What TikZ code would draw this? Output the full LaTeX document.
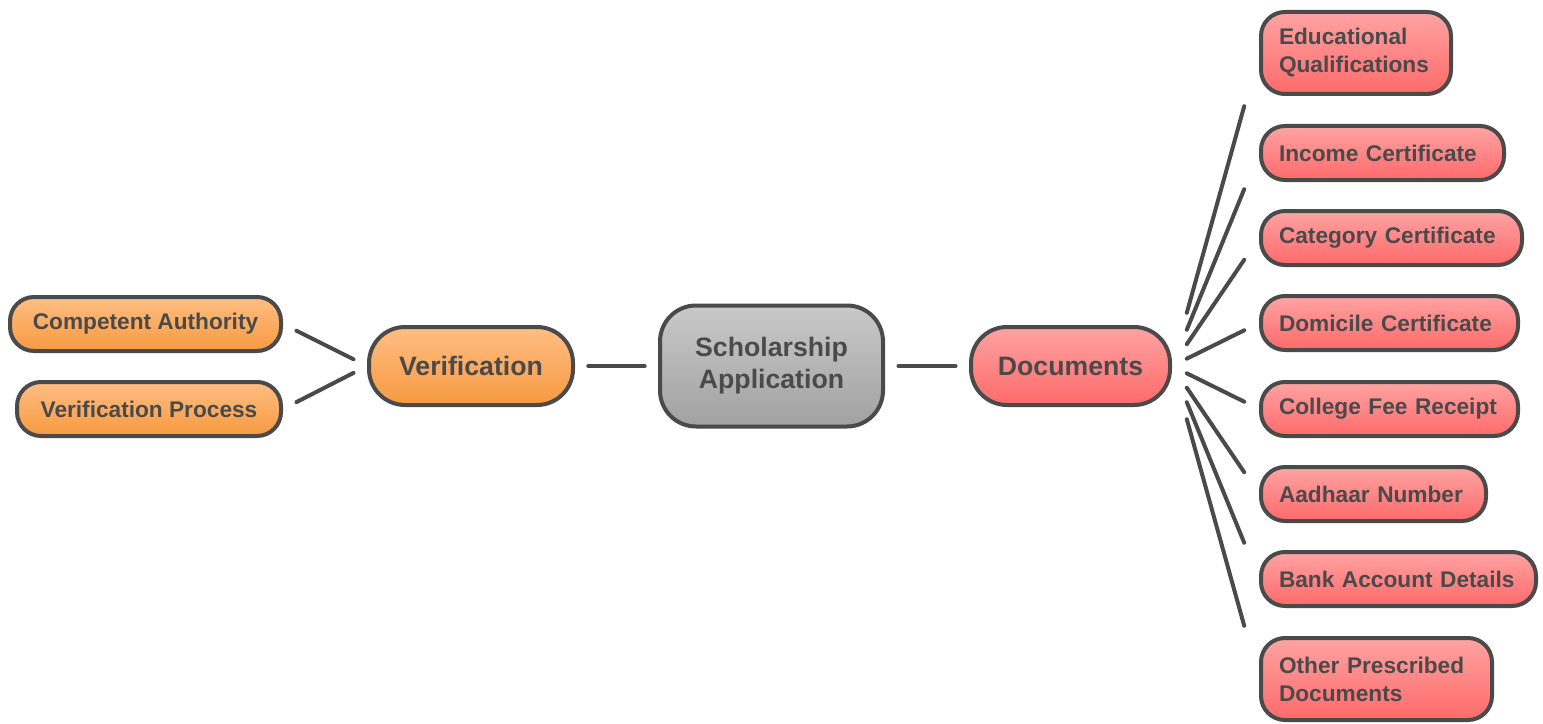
\documentclass[tikz,border=0pt]{standalone}
\usepackage{fontspec}
\setmainfont{Liberation Sans}
\usetikzlibrary{calc}
\definecolor{sa_line}{RGB}{74, 74, 74}
\definecolor{sa_orange_t}{RGB}{255, 190, 132}
\definecolor{sa_orange_b}{RGB}{247, 154, 64}
\definecolor{sa_red_t}{RGB}{255, 163, 163}
\definecolor{sa_red_b}{RGB}{255, 106, 106}
\definecolor{sa_grey_t}{RGB}{201, 201, 201}
\definecolor{sa_grey_b}{RGB}{161, 161, 161}
\tikzstyle{box}=[draw=sa_line,line width=3pt,text=sa_line,font=\bfseries]
\tikzstyle{mainbox}=[box,rounded corners=27pt,minimum height=58.5pt,
  font=\fontsize{20}{24}\selectfont\bfseries,align=center]
\tikzstyle{leaf}=[box,rounded corners=18pt,minimum height=40.5pt,inner xsep=13.5pt,
  font=\fontsize{17}{21}\selectfont\bfseries]
\tikzstyle{on}=[top color=sa_orange_t,bottom color=sa_orange_b]
\tikzstyle{rd}=[top color=sa_red_t,bottom color=sa_red_b]
\tikzstyle{gy}=[top color=sa_grey_t,bottom color=sa_grey_b]
\tikzstyle{link}=[draw=sa_line,line width=3pt,line cap=round]
\begin{document}
\begin{tikzpicture}[x=0.75pt,y=-0.75pt]
    \useasboundingbox (0,0) rectangle (1543,724);
    \node [mainbox,gy,minimum width=167.25pt,minimum height=90.75pt] (app) at (771.5,366) {Scholarship\\Application};
    \node [mainbox,on,minimum width=153pt] (ver) at (471,366) {Verification};
    \node [mainbox,rd,minimum width=149.25pt] (doc) at (1070.5,366) {Documents};
    \node [leaf,on,minimum width=203.25pt] (auth) at (145.5,324) {Competent Authority};
    \node [leaf,on,minimum width=198pt] (proc) at (149,409) {Verification Process};
    \node [leaf,rd,anchor=west,text width=115.5pt,align=left,minimum height=61.5pt] (edu) at (1259,53) {Educational\\Qualifications};
    \node [leaf,rd,anchor=west,text width=155.25pt,align=left] (inc) at (1259,153) {Income Certificate};
    \node [leaf,rd,anchor=west,text width=168.75pt,align=left] (cat) at (1259,238) {Category Certificate};
    \node [leaf,rd,anchor=west,text width=165.75pt,align=left] (dom) at (1259,323) {Domicile Certificate};
    \node [leaf,rd,anchor=west,text width=165.75pt,align=left] (fee) at (1259,409) {College Fee Receipt};
    \node [leaf,rd,anchor=west,text width=141.75pt,align=left] (aad) at (1259,494) {Aadhaar Number};
    \node [leaf,rd,anchor=west,text width=179.25pt,align=left] (bank) at (1259,579) {Bank Account Details};
    \node [leaf,rd,anchor=west,text width=146.25pt,align=left,minimum height=61.5pt] (oth) at (1259,679) {Other Prescribed\\Documents};
    \draw [link] ($(ver.east)!0.16!(app.west)$) to ($(ver.east)!0.84!(app.west)$);
    \draw [link] ($(app.east)!0.16!(doc.west)$) to ($(app.east)!0.84!(doc.west)$);
    \foreach \n in {auth,proc}
      \draw [link] ($(ver.west)!0.16!(\n.east)$) to ($(ver.west)!0.84!(\n.east)$);
    \foreach \n in {edu,inc,cat,dom,fee,aad,bank,oth}
      \draw [link] ($(doc.east)!0.17!(\n.west)$) to ($(doc.east)!0.83!(\n.west)$);
  \end{tikzpicture}
\end{document}
